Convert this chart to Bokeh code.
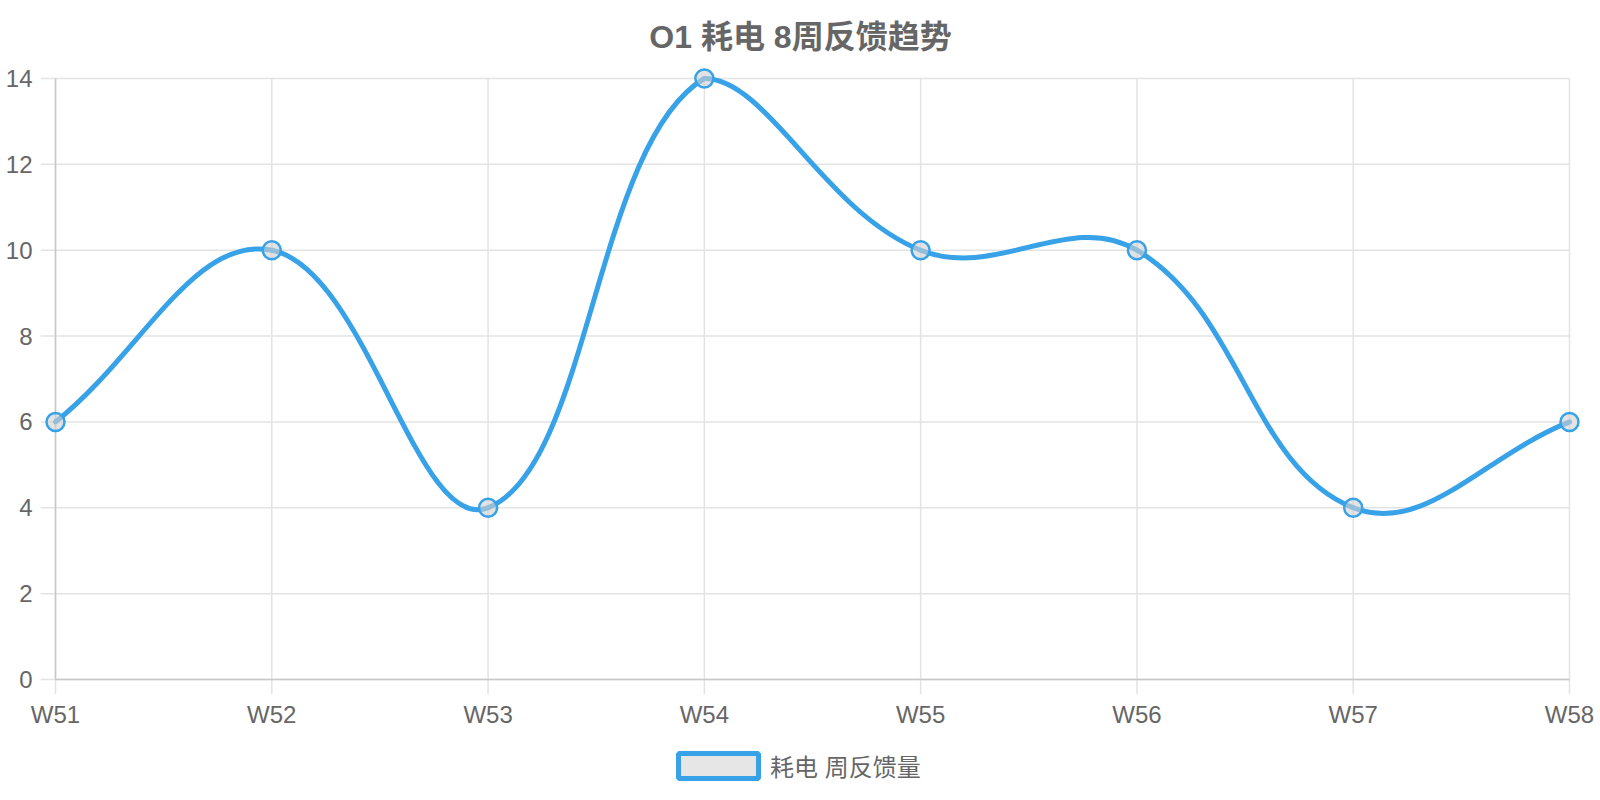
import numpy as np
from bokeh.plotting import figure
from bokeh.layouts import column
from bokeh.models import Range1d, FixedTicker, Legend, LegendItem, ColumnDataSource, Label
from bokeh.embed import file_html
from bokeh.resources import INLINE

weeks = ["W51", "W52", "W53", "W54", "W55", "W56", "W57", "W58"]
counts = [6, 10, 4, 14, 10, 10, 4, 6]
y_ticks = [0, 2, 4, 6, 8, 10, 12, 14]
title_text = "O1 耗电 8周反馈趋势"
series_name = "耗电 周反馈量"

W = 1600
TH, LH = 60, 60                  # title strip, legend strip heights
ML, MR, MT, MB = 40, 20, 7, 46   # main figure borders
PADL, PADR, PADT, PADB = 15, 11, 11, 15   # frame padding (px) around the data area
DW, DH = 1514, 601               # data area size in px
FW = W - ML - MR
FH = DH + PADT + PADB
H = MT + FH + MB
XMIN, XMAX, YMIN, YMAX = 0, len(weeks) - 1, 0, 14
sx = DW / (XMAX - XMIN)
sy = DH / (YMAX - YMIN)
x_lo, x_hi = XMIN - PADL / sx, XMAX + PADR / sx
y_lo, y_hi = YMIN - PADB / sy, YMAX + PADT / sy

FONT = "Liberation Sans, Arial, Noto Sans CJK SC"
TXT = "#666666"
BLUE = "#38a2e8"
GRID = "#e3e3e3"
AXIS = "#c8c8c8"

# ---- title strip ----
p0 = figure(width=W, height=TH, output_backend="svg", toolbar_location=None,
            x_range=Range1d(0, FW), y_range=Range1d(0, TH),
            x_axis_location=None, y_axis_location=None,
            min_border=0, outline_line_color=None,
            background_fill_color="white", border_fill_color="white")
p0.grid.visible = False
p0.add_layout(Label(x=W / 2 - ML, y=TH - 36, text=title_text, text_align="center",
                    text_baseline="middle", text_font=FONT, text_font_size="32px",
                    text_font_style="bold", text_color=TXT))

# ---- main chart ----
p = figure(width=W, height=H, output_backend="svg", toolbar_location=None,
           x_range=Range1d(x_lo, x_hi), y_range=Range1d(y_lo, y_hi),
           min_border_left=ML, min_border_right=MR, min_border_top=MT, min_border_bottom=MB,
           background_fill_color="white", border_fill_color="white", outline_line_color=None)
p.grid.visible = False

xs = np.arange(len(weeks), dtype=float)
ys = np.array(counts, dtype=float)
yt = np.array(y_ticks, dtype=float)

# grid lines (extending past the axes as tick marks)
p.segment(x0=x_lo, x1=XMAX, y0=yt, y1=yt, line_color=GRID, line_width=1.5)
p.segment(x0=xs, x1=xs, y0=y_lo, y1=YMAX, line_color=GRID, line_width=1.5)
# axis lines
p.segment(x0=[XMIN, XMIN], x1=[XMAX, XMIN], y0=[YMIN, YMIN], y1=[YMIN, YMAX],
          line_color=AXIS, line_width=1.5)

# Chart.js spline (tension 0.4) control points computed in pixel space
t = 0.4
n = len(xs)
prev_cp = []
next_cp = []
clampx = lambda v: min(max(v, XMIN), XMAX)
clampy = lambda v: min(max(v, YMIN), YMAX)
for i in range(n):
    pi = max(i - 1, 0)
    ni = min(i + 1, n - 1)
    px_, py_ = xs[pi] * sx, ys[pi] * sy
    cx_, cy_ = xs[i] * sx, ys[i] * sy
    nx_, ny_ = xs[ni] * sx, ys[ni] * sy
    d01 = np.hypot(cx_ - px_, cy_ - py_)
    d12 = np.hypot(nx_ - cx_, ny_ - cy_)
    tot = d01 + d12
    s01 = d01 / tot if tot else 0
    s12 = d12 / tot if tot else 0
    fa, fb = t * s01, t * s12
    pcx = xs[i] - fa * (xs[ni] - xs[pi])
    pcy = ys[i] - fa * (ys[ni] - ys[pi])
    ncx = xs[i] + fb * (xs[ni] - xs[pi])
    ncy = ys[i] + fb * (ys[ni] - ys[pi])
    prev_cp.append((clampx(pcx), clampy(pcy)))
    next_cp.append((clampx(ncx), clampy(ncy)))

seg = ColumnDataSource(dict(
    x0=xs[:-1], y0=ys[:-1], x1=xs[1:], y1=ys[1:],
    cx0=[next_cp[i][0] for i in range(n - 1)], cy0=[next_cp[i][1] for i in range(n - 1)],
    cx1=[prev_cp[i + 1][0] for i in range(n - 1)], cy1=[prev_cp[i + 1][1] for i in range(n - 1)],
))
p.bezier(x0="x0", y0="y0", x1="x1", y1="y1", cx0="cx0", cy0="cy0", cx1="cx1", cy1="cy1",
         source=seg, line_color=BLUE, line_width=5, line_cap="round")

p.scatter(xs, ys, size=18, marker="circle", fill_color="#d0d0d0", fill_alpha=0.6,
          line_color=BLUE, line_width=2.5)

# axes (labels only; lines and ticks drawn above)
p.xaxis.ticker = FixedTicker(ticks=list(xs))
p.xaxis.major_label_overrides = {i: w for i, w in enumerate(weeks)}
p.yaxis.ticker = FixedTicker(ticks=y_ticks)
for ax in (p.xaxis[0], p.yaxis[0]):
    ax.axis_line_color = None
    ax.major_tick_line_color = None
    ax.major_tick_out = 0
    ax.major_tick_in = 0
    ax.minor_tick_line_color = None
    ax.major_label_text_font = FONT
    ax.major_label_text_font_size = "24px"
    ax.major_label_text_color = TXT
p.xaxis.major_label_standoff = 6
p.yaxis.major_label_standoff = 8

# ---- legend strip ----
p2 = figure(width=W, height=LH, output_backend="svg", toolbar_location=None,
            x_range=Range1d(0, FW), y_range=Range1d(0, LH),
            x_axis_location=None, y_axis_location=None,
            min_border=0, outline_line_color=None,
            background_fill_color="white", border_fill_color="white")
p2.grid.visible = False
sw = p2.rect(x=[0], y=[0], width=1, height=1, fill_color="#e6e6e6", line_color=BLUE, line_width=5)
sw.visible = False
legend = Legend(items=[LegendItem(label=series_name, renderers=[sw])],
                location=(668 - ML, 17), orientation="horizontal",
                glyph_width=100, glyph_height=31, label_height=25, label_standoff=2,
                label_text_font=FONT, label_text_font_size="24px", label_text_color=TXT,
                padding=0, margin=0, border_line_color=None, background_fill_alpha=0,
                inactive_fill_alpha=0)
p2.add_layout(legend, "center")

open("out.html", "w").write(file_html(column(p0, p, p2, spacing=0), INLINE))
